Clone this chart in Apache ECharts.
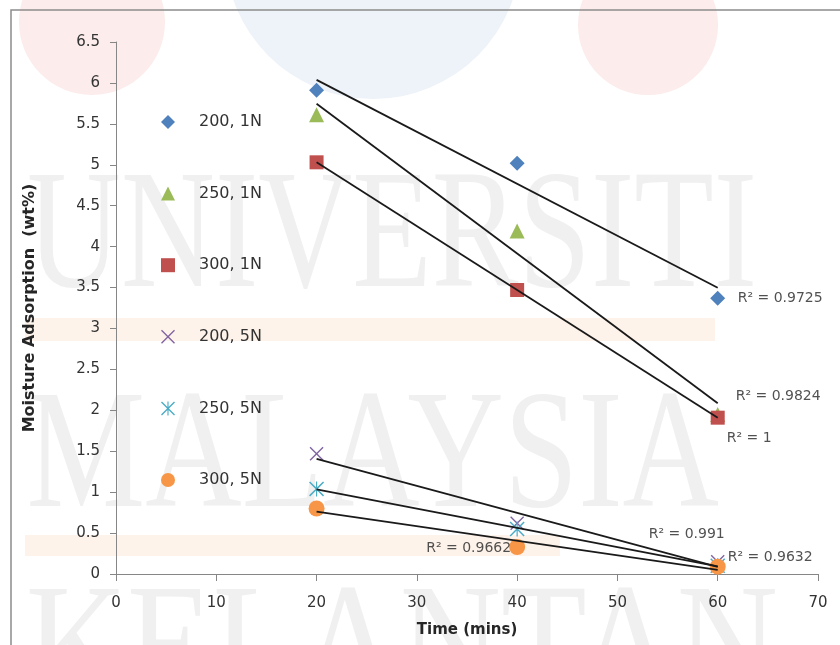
<!DOCTYPE html>
<html>
<head>
<meta charset="utf-8">
<script src="https://cdn.jsdelivr.net/npm/echarts@6/dist/echarts.min.js"></script>
<style>
html,body{margin:0;padding:0;background:#fff;}
#chart{width:840px;height:645px;}
</style>
</head>
<body>
<div id="chart"></div>
<script>
// ---- data ----
const times = [20, 40, 60];
const seriesNames = ['200, 1N', '250, 1N', '300, 1N', '200, 5N', '250, 5N', '300, 5N'];
const s200_1N = [5.91, 5.02, 3.37];
const s250_1N = [5.61, 4.19, 1.95];
const s300_1N = [5.03, 3.47, 1.91];
const s200_5N = [1.47, 0.62, 0.15];
const s250_5N = [1.04, 0.55, 0.10];
const s300_5N = [0.80, 0.33, 0.09];
const rSquaredText = ['R\u00b2 = 0.9725', 'R\u00b2 = 0.9824', 'R\u00b2 = 1', 'R\u00b2 = 0.9632', 'R\u00b2 = 0.991', 'R\u00b2 = 0.9662'];
const labelAnchorIndex = [2, 2, 2, 2, 2, 1];
const xTicks = { min: 0, max: 70, step: 10 };
const yTicks = { min: 0, max: 6.5, step: 0.5 };
const watermarkWords = ['UNIVERSITI', 'MALAYSIA', 'KELANTAN'];

const allValues = [s200_1N, s250_1N, s300_1N, s200_5N, s250_5N, s300_5N];

// ---- styles ----
const colors = ['#4F81BD', '#9BBB59', '#C0504D', '#8064A2', '#4BACC6', '#F79646'];
const xPath = 'path://M0,7 L7,0 L50,43 L93,0 L100,7 L57,50 L100,93 L93,100 L50,57 L7,100 L0,93 L43,50 Z';
const starPath = 'path://M0,7 L7,0 L50,43 L93,0 L100,7 L57,50 L100,93 L93,100 L50,57 L7,100 L0,93 L43,50 Z M46,0 L54,0 L54,100 L46,100 Z';
const symbols = ['diamond', 'triangle', 'rect', xPath, starPath, 'circle'];
const symbolSizes = [15, 15, 14, 14, 15, 16];
const labelStyles = [
  { align: 'left', offset: [20, 0] },
  { align: 'left', offset: [18, -18] },
  { align: 'left', offset: [9, 21] },
  { align: 'left', offset: [10, -4] },
  { align: 'left', offset: [-69, -31] },
  { align: 'right', offset: [-6, 1] }
];

function linFit(xs, ys) {
  const n = xs.length;
  const mx = xs.reduce((a, b) => a + b, 0) / n;
  const my = ys.reduce((a, b) => a + b, 0) / n;
  let sxy = 0, sxx = 0;
  for (let i = 0; i < n; i++) { sxy += (xs[i] - mx) * (ys[i] - my); sxx += (xs[i] - mx) * (xs[i] - mx); }
  const b = sxy / sxx;
  const a = my - b * mx;
  return x => a + b * x;
}

const FONT = 'DejaVu Sans';
const series = [];
allValues.forEach((vals, i) => {
  series.push({
    name: seriesNames[i],
    type: 'scatter',
    symbol: symbols[i],
    symbolSize: symbolSizes[i],
    itemStyle: { color: colors[i], opacity: 1 },
    z: 3,
    data: times.map((t, k) => [t, vals[k]])
  });
});
allValues.forEach((vals, i) => {
  const f = linFit(times, vals);
  const x0 = times[0], x1 = times[times.length - 1];
  series.push({
    name: 'trend' + i,
    type: 'line',
    data: [[x0, f(x0)], [x1, f(x1)]],
    symbol: 'none',
    silent: true,
    z: 4,
    lineStyle: { color: '#1a1a1a', width: 1.8 }
  });
});
allValues.forEach((vals, i) => {
  const k = labelAnchorIndex[i];
  series.push({
    name: 'r2_' + i,
    type: 'scatter',
    symbolSize: 0,
    silent: true,
    z: 5,
    data: [{
      value: [times[k], vals[k]],
      label: {
        show: true,
        position: 'inside',
        formatter: rSquaredText[i],
        align: labelStyles[i].align,
        verticalAlign: 'middle',
        offset: labelStyles[i].offset,
        color: '#262626',
        fontFamily: FONT,
        fontSize: 14
      }
    }]
  });
});

const wmColor = '#f0f0f0';
const wmFont = '169px "Liberation Serif"';
const option = {
  backgroundColor: '#ffffff',
  animation: false,
  graphic: [
    { type: 'circle', z: -10, shape: { cx: 92, cy: 22, r: 73 }, style: { fill: '#fcecec' } },
    { type: 'circle', z: -10, shape: { cx: 373, cy: -49, r: 148 }, style: { fill: '#eef3f9' } },
    { type: 'circle', z: -10, shape: { cx: 648, cy: 25, r: 70 }, style: { fill: '#fcecec' } },
    { type: 'rect', z: -10, shape: { x: 25, y: 318, width: 690, height: 23 }, style: { fill: '#fef3ea' } },
    { type: 'rect', z: -10, shape: { x: 25, y: 535, width: 535, height: 21 }, style: { fill: '#fef3ea' } },
    { type: 'text', z: -9, x: 22, y: 326, scaleX: 0.77, originX: 22, originY: 326,
      style: { text: watermarkWords[0], font: wmFont, fill: wmColor, textVerticalAlign: 'bottom' } },
    { type: 'text', z: -9, x: 22, y: 546, scaleX: 0.79, originX: 22, originY: 546,
      style: { text: watermarkWords[1], font: wmFont, fill: wmColor, textVerticalAlign: 'bottom' } },
    { type: 'text', z: -9, x: 22, y: 740, scaleX: 0.83, originX: 22, originY: 740,
      style: { text: watermarkWords[2], font: wmFont, fill: wmColor, textVerticalAlign: 'bottom' } },
    { type: 'rect', z: 10, shape: { x: 11, y: 10, width: 900, height: 700 }, style: { fill: 'none', stroke: '#8c8c8c', lineWidth: 1.5 } }
  ],
  grid: { left: 116, right: 22, top: 42, bottom: 71, containLabel: false },
  legend: {
    data: seriesNames,
    orient: 'vertical',
    left: 161,
    top: 112,
    padding: 0,
    itemWidth: 14,
    itemHeight: 14,
    itemGap: 51.6,
    textStyle: { fontFamily: FONT, fontSize: 16, color: '#333', lineHeight: 20, padding: [0, 0, 0, 19] },
    selectedMode: false
  },
  xAxis: {
    type: 'value',
    min: xTicks.min, max: xTicks.max, interval: xTicks.step,
    name: 'Time (mins)',
    nameLocation: 'middle',
    nameGap: 49,
    nameTextStyle: { fontFamily: FONT, fontSize: 15, fontWeight: 'bold', color: '#262626', verticalAlign: 'top' },
    axisLine: { show: true, lineStyle: { color: '#868686', width: 1 } },
    axisTick: { show: true, length: 7, lineStyle: { color: '#868686' } },
    axisLabel: { margin: 22, fontFamily: FONT, fontSize: 15, color: '#333' },
    splitLine: { show: false }
  },
  yAxis: {
    type: 'value',
    min: yTicks.min, max: yTicks.max, interval: yTicks.step,
    name: 'Moisture Adsorption  (wt%)',
    nameLocation: 'middle',
    nameGap: 78,
    nameTextStyle: { fontFamily: FONT, fontSize: 16, fontWeight: 'bold', color: '#262626' },
    axisLine: { show: true, lineStyle: { color: '#868686', width: 1 } },
    axisTick: { show: true, length: 6, lineStyle: { color: '#868686' } },
    axisLabel: { margin: 16, fontFamily: FONT, fontSize: 15, color: '#333' },
    splitLine: { show: false }
  },
  series: series
};

const chart = echarts.init(document.getElementById('chart'), null, { renderer: 'canvas' });
chart.setOption(option);
</script>
</body>
</html>
